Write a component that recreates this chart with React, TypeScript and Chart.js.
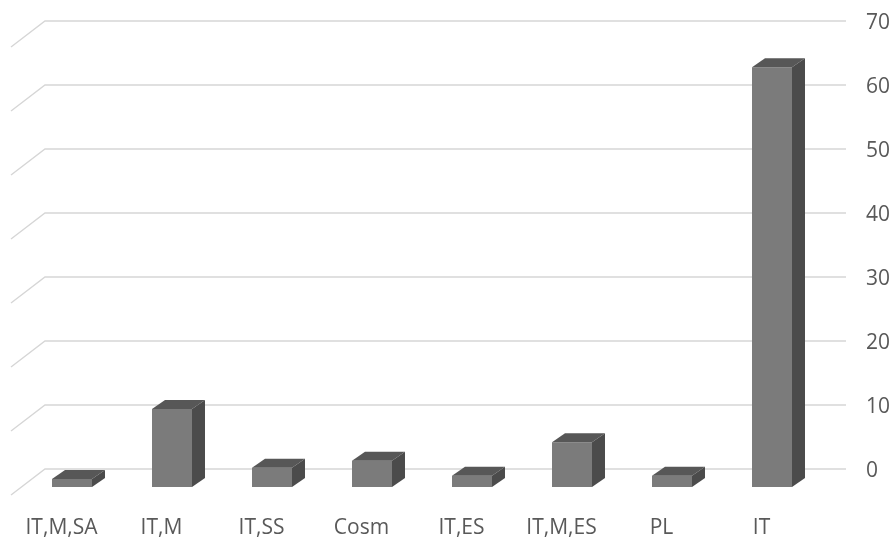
import React, { useEffect, useRef } from "react";
import { Chart, registerables } from "chart.js";

Chart.register(...registerables);

const categories = ["IT,M,SA", "IT,M", "IT,SS", "Cosm", "IT,ES", "IT,M,ES", "PL", "IT"];
const values = [1.25, 12.2, 3, 4.1, 1.75, 7, 1.75, 65.6];
const yTicks = [0, 10, 20, 30, 40, 50, 60, 70];

const FRONT = "#7b7b7b";
const TOP = "#575757";
const SIDE = "#4b4b4b";
const GRID = "#d6d6d6";
const TEXT = "#595959";

// 3D geometry offsets
const BAR_DEPTH_X = 13;
const BAR_DEPTH_Y = -9;
const FRONT_SHIFT_Y = 18;
const WALL_SLANT_X = 34;
const WALL_SLANT_Y = 26;

const threeD = {
  id: "threeD",
  beforeDatasetsDraw(chart: any) {
    const { ctx, chartArea } = chart;
    const yScale = chart.scales.y;
    const left = chartArea.left + 23;
    const right = chartArea.right + 24;
    ctx.save();
    ctx.strokeStyle = GRID;
    ctx.lineWidth = 1.4;
    yTicks.forEach((v) => {
      const y = yScale.getPixelForValue(v);
      ctx.beginPath();
      ctx.moveTo(left - WALL_SLANT_X, y + WALL_SLANT_Y);
      ctx.lineTo(left, y);
      ctx.lineTo(right, y);
      ctx.stroke();
    });
    ctx.restore();
    ctx.save();
    ctx.translate(0, FRONT_SHIFT_Y);
  },
  afterDatasetsDraw(chart: any) {
    const { ctx } = chart;
    const meta = chart.getDatasetMeta(0);
    meta.data.forEach((bar: any) => {
      const p = bar.getProps(["x", "y", "base", "width"], true);
      const l = p.x - p.width / 2;
      const r = p.x + p.width / 2;
      const t = Math.min(p.y, p.base);
      const b = Math.max(p.y, p.base);
      ctx.fillStyle = TOP;
      ctx.beginPath();
      ctx.moveTo(l, t);
      ctx.lineTo(l + BAR_DEPTH_X, t + BAR_DEPTH_Y);
      ctx.lineTo(r + BAR_DEPTH_X, t + BAR_DEPTH_Y);
      ctx.lineTo(r, t);
      ctx.closePath();
      ctx.fill();
      ctx.fillStyle = SIDE;
      ctx.beginPath();
      ctx.moveTo(r, t);
      ctx.lineTo(r + BAR_DEPTH_X, t + BAR_DEPTH_Y);
      ctx.lineTo(r + BAR_DEPTH_X, b + BAR_DEPTH_Y);
      ctx.lineTo(r, b);
      ctx.closePath();
      ctx.fill();
    });
    ctx.restore();
  },
};

export default function App() {
  const ref = useRef<HTMLCanvasElement | null>(null);
  useEffect(() => {
    if (!ref.current) return;
    const chart = new Chart(ref.current, {
      type: "bar",
      data: {
        labels: categories,
        datasets: [
          {
            data: values,
            backgroundColor: FRONT,
            borderWidth: 0,
            barPercentage: 0.4,
            categoryPercentage: 1,
          },
        ],
      },
      options: {
        animation: false,
        responsive: true,
        maintainAspectRatio: false,
        layout: { padding: { left: 22, top: 21, right: 0, bottom: 0 } },
        plugins: { legend: { display: false }, tooltip: { enabled: false } },
        scales: {
          x: {
            grid: { display: false, drawTicks: false },
            border: { display: false },
            ticks: {
              color: TEXT,
              font: { family: "'Open Sans'", size: 21 },
              labelOffset: -10.5,
              padding: 46,
              maxRotation: 0,
              autoSkip: false,
            },
            afterFit(scale: any) {
              scale.height = 69;
              scale.paddingLeft = 0;
              scale.paddingRight = 0;
              scale.paddingTop = 0;
              scale.paddingBottom = 0;
            },
          },
          y: {
            position: "right",
            min: 0,
            max: 70,
            grid: { display: false, drawTicks: false },
            border: { display: false },
            ticks: {
              stepSize: 10,
              color: TEXT,
              font: { family: "'Open Sans'", size: 21 },
              padding: 44,
              labelOffset: 2,
            },
            afterFit(scale: any) {
              scale.width = 69;
              scale.paddingLeft = 0;
              scale.paddingRight = 0;
              scale.paddingTop = 0;
              scale.paddingBottom = 0;
            },
          },
        },
      },
      plugins: [threeD],
    });
    return () => chart.destroy();
  }, []);
  return (
    <div style={{ position: "absolute", left: 0, top: 0, width: 891, height: 538, background: "#fff" }}>
      <canvas ref={ref} />
    </div>
  );
}
